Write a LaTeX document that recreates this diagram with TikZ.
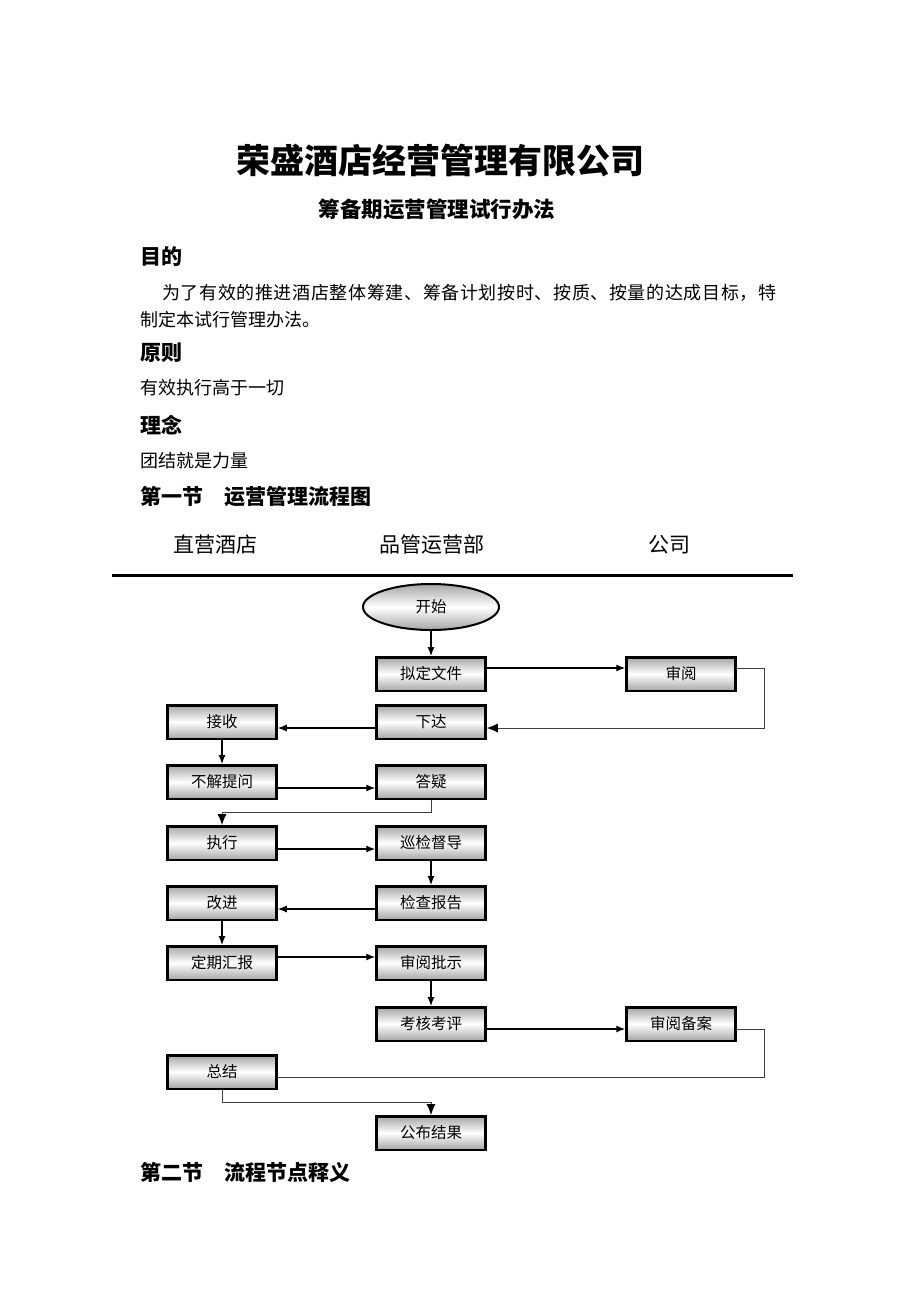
\documentclass[tikz,border=0pt]{standalone}
\usepackage{fontspec}
\setmainfont{Noto Sans CJK SC}
\newfontfamily\widecjk[LetterSpace=3.5]{Noto Sans CJK SC}
\usetikzlibrary{shapes.geometric, arrows.meta}

\tikzset{
  flowbox/.style={draw, line width=2.5pt, minimum width=109pt, minimum height=33.5pt, inner sep=0pt,
    top color=gray!70, bottom color=gray!70, middle color=white,
    font=\fontsize{15.5}{18}\selectfont},
  startbox/.style={ellipse, draw, line width=2pt, minimum width=136pt, minimum height=46pt, inner sep=0pt,
    top color=gray!70, bottom color=gray!70, middle color=white,
    font=\fontsize{15.5}{18}\selectfont},
  flow/.style={line width=1.2pt, -{Latex[length=9pt,width=7pt]}},
  back/.style={line width=0.8pt, draw=black!75},
  backflow/.style={back, -{Latex[length=11pt,width=9pt,black,fill=black]}},
  heading/.style={anchor=west, inner sep=0pt, font=\fontsize{21}{25}\selectfont\bfseries},
  bodytext/.style={anchor=west, inner sep=0pt, font=\fontsize{18}{22}\selectfont},
  colhead/.style={inner sep=0pt, font=\fontsize{21}{24}\selectfont},
}

\begin{document}
\begin{tikzpicture}[x=1pt, y=-1pt]
  \fill[white] (0,0) rectangle (920,1302);
  \useasboundingbox (0,0) rectangle (920,1302);

  % Title and text
  \node[inner sep=0pt, font=\fontsize{34}{40}\selectfont\bfseries] (title) at (440,160) {荣盛酒店经营管理有限公司};
  \node[inner sep=0pt, font=\fontsize{21.5}{26}\selectfont\bfseries] (subtitle) at (437,209) {筹备期运营管理试行办法};
  \node[heading] (aim) at (140,257) {目的};
  \node[bodytext, font=\fontsize{18}{22}\selectfont\widecjk] (aimtxt) at (162,293) {为了有效的推进酒店整体筹建、筹备计划按时、按质、按量的达成目标，特};
  \node[bodytext] (aimtxt2) at (140,320) {制定本试行管理办法。};
  \node[heading] (rule) at (140,353) {原则};
  \node[bodytext] (ruletxt) at (140,388) {有效执行高于一切};
  \node[heading] (idea) at (140,425) {理念};
  \node[bodytext] (ideatxt) at (140,461) {团结就是力量};
  \node[heading] (sec1) at (140,497) {第一节　运营管理流程图};
  \node[heading] (sec2) at (140,1172) {第二节　流程节点释义};

  % Column headers
  \node[colhead] (hotel) at (215,545) {直营酒店};
  \node[colhead] (dept) at (432,545) {品管运营部};
  \node[colhead] (company) at (669,545) {公司};
  \coordinate (rulel) at (112,575);
  \coordinate (ruler) at (793,575);
  \draw[line width=3pt] (rulel) -- (ruler);

  % Flowchart nodes
  \node[startbox] (start) at (431,607) {开始};
  \node[flowbox] (draft) at (431,674) {拟定文件};
  \node[flowbox] (review) at (681,674) {审阅};
  \node[flowbox] (receive) at (222,722) {接收};
  \node[flowbox] (issue) at (431,722) {下达};
  \node[flowbox] (ask) at (222,782) {不解提问};
  \node[flowbox] (answer) at (431,782) {答疑};
  \node[flowbox] (execute) at (222,843) {执行};
  \node[flowbox] (inspect) at (431,843) {巡检督导};
  \node[flowbox] (improve) at (222,903) {改进};
  \node[flowbox] (report) at (431,903) {检查报告};
  \node[flowbox] (regular) at (222,963) {定期汇报};
  \node[flowbox] (approve) at (431,963) {审阅批示};
  \node[flowbox] (assess) at (431,1024) {考核考评};
  \node[flowbox] (archive) at (681,1024) {审阅备案};
  \node[flowbox] (summary) at (222,1072) {总结};
  \node[flowbox] (publish) at (431,1133) {公布结果};

  % Connections
  \draw[flow] (start) -- (draft);
  \draw[flow] ([yshift=6pt]draft.east) -- ([yshift=6pt]review.west);
  \draw[backflow] ([yshift=6pt]review.east) -- ++(28,0) |- ([yshift=-6pt]issue.east);
  \draw[flow] ([yshift=-6pt]issue.west) -- ([yshift=-6pt]receive.east);
  \draw[flow] (receive) -- (ask);
  \draw[flow] ([yshift=-6pt]ask.east) -- ([yshift=-6pt]answer.west);
  \draw[backflow] (answer.south) -- ++(0,12) -| (execute.north);
  \draw[flow] ([yshift=-6pt]execute.east) -- ([yshift=-6pt]inspect.west);
  \draw[flow] (inspect) -- (report);
  \draw[flow] ([yshift=-6pt]report.west) -- ([yshift=-6pt]improve.east);
  \draw[flow] (improve) -- (regular);
  \draw[flow] ([yshift=6pt]regular.east) -- ([yshift=6pt]approve.west);
  \draw[flow] (approve) -- (assess);
  \draw[flow] ([yshift=-5pt]assess.east) -- ([yshift=-5pt]archive.west);
  \draw[back] ([yshift=-5pt]archive.east) -- ++(28,0) |- ([yshift=-5pt]summary.east);
  \draw[backflow] (summary.south) -- ++(0,12) -| (publish.north);
\end{tikzpicture}
\end{document}
